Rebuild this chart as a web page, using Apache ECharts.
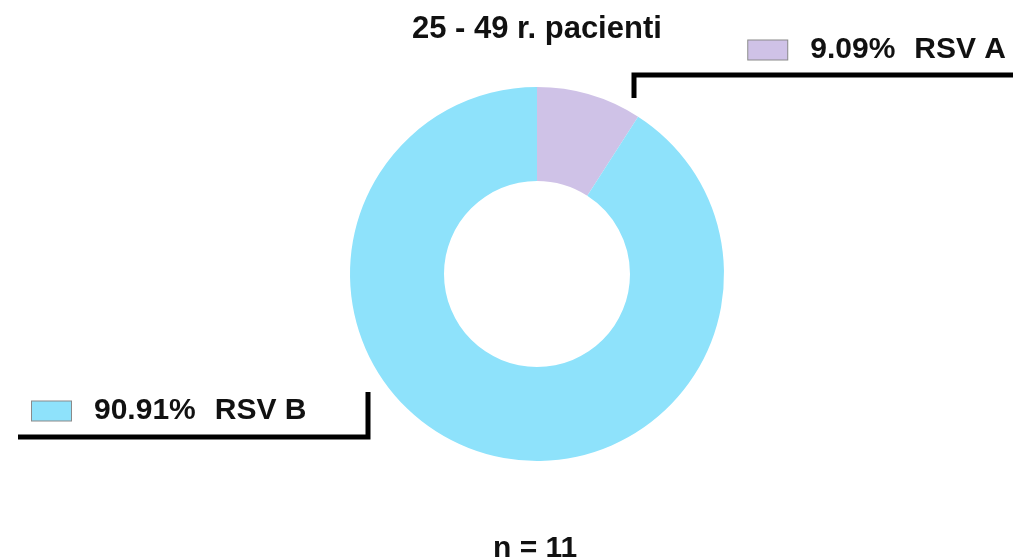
<!DOCTYPE html>
<html>
<head>
<meta charset="utf-8">
<script src="https://cdn.jsdelivr.net/npm/echarts@6/dist/echarts.min.js"></script>
<style>
  html, body { margin: 0; padding: 0; background: #fff; }
  #main { width: 1013px; height: 558px; }
</style>
</head>
<body>
<div id="main"></div>
<script>
// data
const categories = ['RSV A', 'RSV B']
const counts = [1, 10]
const percents = ['9.09%', '90.91%']
const colors = ['#CFC2E7', '#8EE2FB']
const titleText = '25 - 49 r. pacienti'
const nText = 'n = 11'

const cx = 537, cy = 274, rIn = 93, rOut = 187
const W = 1013
const font = 'Liberation Sans, Arial, sans-serif'

const myChart = echarts.init(document.getElementById('main'))

const seriesData = categories.map((name, i) => ({
  name: name,
  value: counts[i],
  itemStyle: { color: colors[i] },
  label: {
    formatter: '{box|}{p|' + percents[i] + '}{n|' + name + '}',
    rich: {
      box: {
        width: 39, height: 19,
        backgroundColor: colors[i],
        borderColor: '#8a8a8a', borderWidth: 1
      },
      p: {
        fontFamily: font, fontWeight: 'bold', fontSize: 30, color: '#111',
        padding: [0, 0, 0, 23]
      },
      n: {
        fontFamily: font, fontWeight: 'bold', fontSize: 30, color: '#111',
        padding: [0, 0, 0, 19]
      }
    }
  }
}))

myChart.setOption({
  animation: false,
  title: [
    {
      text: titleText, left: 412, top: 14, padding: 0,
      textStyle: { fontFamily: font, fontWeight: 'bold', fontSize: 31, color: '#111' }
    },
    {
      text: nText, left: 493, top: 534, padding: 0,
      textStyle: { fontFamily: font, fontWeight: 'bold', fontSize: 30, color: '#111' }
    }
  ],
  series: [
    {
      type: 'pie',
      center: [cx, cy],
      radius: [rIn, rOut],
      startAngle: 90,
      clockwise: true,
      avoidLabelOverlap: false,
      label: { show: true, position: 'outside' },
      labelLine: { show: true, lineStyle: { color: '#000', width: 5 } },
      labelLayout: function (params) {
        if (params.dataIndex === 0) {
          return {
            x: W - 7, y: 50, align: 'right', verticalAlign: 'middle',
            labelLinePoints: [[cx + 97, cy - 176], [cx + 97, cy - 199], [W, cy - 199]]
          }
        }
        return {
          x: 32, y: 411, align: 'left', verticalAlign: 'middle',
          labelLinePoints: [[cx - 169, cy + 118], [cx - 169, cy + 163], [18, cy + 163]]
        }
      },
      emphasis: { disabled: true },
      data: seriesData
    }
  ]
})
</script>
</body>
</html>
